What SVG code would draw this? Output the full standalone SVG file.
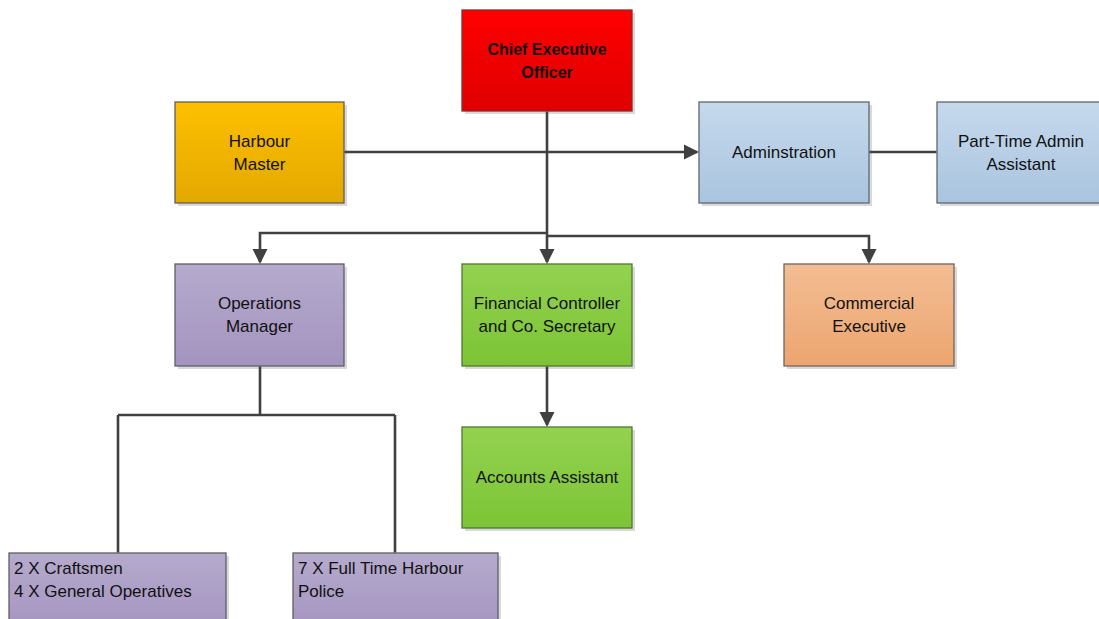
<svg xmlns="http://www.w3.org/2000/svg" width="1099" height="619" viewBox="0 0 1099 619">
<style>
.box{stroke-width:1.3}
.sh{fill:#d9d9d9}
.t{font-family:"Liberation Sans",Arial,sans-serif;font-size:17px;fill:#111;text-anchor:middle}
.tl{font-family:"Liberation Sans",Arial,sans-serif;font-size:17px;fill:#111}
.b{font-weight:bold;font-size:16px}
.c{fill:none;stroke:#404040;stroke-width:2.6}
</style>
<defs>
<marker id="arr" markerWidth="16" markerHeight="16" refX="13" refY="8" orient="auto" markerUnits="userSpaceOnUse">
<path d="M0,0.5 L15,8 L0,15.5 Z" fill="#404040"/>
</marker>
<linearGradient id="gRed" x1="0" y1="0" x2="0" y2="1"><stop offset="0" stop-color="#ff0000"/><stop offset="1" stop-color="#e00000"/></linearGradient>
<linearGradient id="gGold" x1="0" y1="0" x2="0" y2="1"><stop offset="0" stop-color="#fdc000"/><stop offset="1" stop-color="#e3a800"/></linearGradient>
<linearGradient id="gBlue" x1="0" y1="0" x2="0" y2="1"><stop offset="0" stop-color="#c6d9ec"/><stop offset="1" stop-color="#a9c4df"/></linearGradient>
<linearGradient id="gPurp" x1="0" y1="0" x2="0" y2="1"><stop offset="0" stop-color="#b6aacd"/><stop offset="1" stop-color="#a394bf"/></linearGradient>
<linearGradient id="gGreen" x1="0" y1="0" x2="0" y2="1"><stop offset="0" stop-color="#93d250"/><stop offset="1" stop-color="#7cc435"/></linearGradient>
<linearGradient id="gOrange" x1="0" y1="0" x2="0" y2="1"><stop offset="0" stop-color="#f3bd93"/><stop offset="1" stop-color="#eca56f"/></linearGradient>
</defs>
<rect width="1099" height="619" fill="#ffffff"/>

<g id="ceo">
<rect class="sh" x="465" y="13" width="170" height="101"/>
<rect class="box" x="462" y="10" width="170" height="101" fill="url(#gRed)" stroke="#8c2a2a"/>
<text class="t b" x="547" y="55">Chief Executive</text>
<text class="t b" x="547" y="78">Officer</text>
</g>

<g id="harbour-master">
<rect class="sh" x="178" y="105" width="169" height="101"/>
<rect class="box" x="175" y="102" width="169" height="101" fill="url(#gGold)" stroke="#5f5f5f"/>
<text class="t" x="259.5" y="147">Harbour</text>
<text class="t" x="259.5" y="170">Master</text>
</g>

<g id="administration">
<rect class="sh" x="702" y="105" width="170" height="101"/>
<rect class="box" x="699" y="102" width="170" height="101" fill="url(#gBlue)" stroke="#5f6670"/>
<text class="t" x="784" y="158">Adminstration</text>
</g>

<g id="part-time">
<rect class="sh" x="940" y="105" width="170" height="101"/>
<rect class="box" x="937" y="102" width="170" height="101" fill="url(#gBlue)" stroke="#5f6670"/>
<text class="t" x="1021" y="147">Part-Time Admin</text>
<text class="t" x="1021" y="170">Assistant</text>
</g>

<g id="operations-manager">
<rect class="sh" x="178" y="267" width="169" height="102"/>
<rect class="box" x="175" y="264" width="169" height="102" fill="url(#gPurp)" stroke="#5f5f66"/>
<text class="t" x="259.5" y="309">Operations</text>
<text class="t" x="259.5" y="332">Manager</text>
</g>

<g id="financial-controller">
<rect class="sh" x="465" y="267" width="170" height="102"/>
<rect class="box" x="462" y="264" width="170" height="102" fill="url(#gGreen)" stroke="#4d7a2b"/>
<text class="t" x="547" y="309">Financial Controller</text>
<text class="t" x="547" y="332">and Co. Secretary</text>
</g>

<g id="commercial">
<rect class="sh" x="787" y="267" width="170" height="102"/>
<rect class="box" x="784" y="264" width="170" height="102" fill="url(#gOrange)" stroke="#6e6660"/>
<text class="t" x="869" y="309">Commercial</text>
<text class="t" x="869" y="332">Executive</text>
</g>

<g id="accounts-assistant">
<rect class="sh" x="465" y="430" width="170" height="101"/>
<rect class="box" x="462" y="427" width="170" height="101" fill="url(#gGreen)" stroke="#4d7a2b"/>
<text class="t" x="547" y="483">Accounts Assistant</text>
</g>

<g id="craftsmen">
<rect class="sh" x="12" y="556" width="217" height="80"/>
<rect class="box" x="9" y="553" width="217" height="80" fill="url(#gPurp)" stroke="#5f5f66"/>
<text class="tl" x="14" y="574">2 X Craftsmen</text>
<text class="tl" x="14" y="597">4 X General Operatives</text>
</g>

<g id="harbour-police">
<rect class="sh" x="296" y="556" width="205" height="80"/>
<rect class="box" x="293" y="553" width="205" height="80" fill="url(#gPurp)" stroke="#5f5f66"/>
<text class="tl" x="298" y="574">7 X Full Time Harbour</text>
<text class="tl" x="298" y="597">Police</text>
</g>

<g id="connectors">
<path class="c" d="M547,111.5 L547,262" marker-end="url(#arr)"/>
<path class="c" d="M547,233 L260,233 L260,262" marker-end="url(#arr)"/>
<path class="c" d="M547,236 L869,236 L869,262" marker-end="url(#arr)"/>
<path class="c" d="M344.5,152 L697,152" marker-end="url(#arr)"/>
<path class="c" d="M869.5,152 L936.5,152"/>
<path class="c" d="M547,366.5 L547,425" marker-end="url(#arr)"/>
<path class="c" d="M260,366.5 L260,415 M118,415 L395,415 M118,415 L118,552.5 M395,415 L395,552.5"/>
</g>
</svg>
